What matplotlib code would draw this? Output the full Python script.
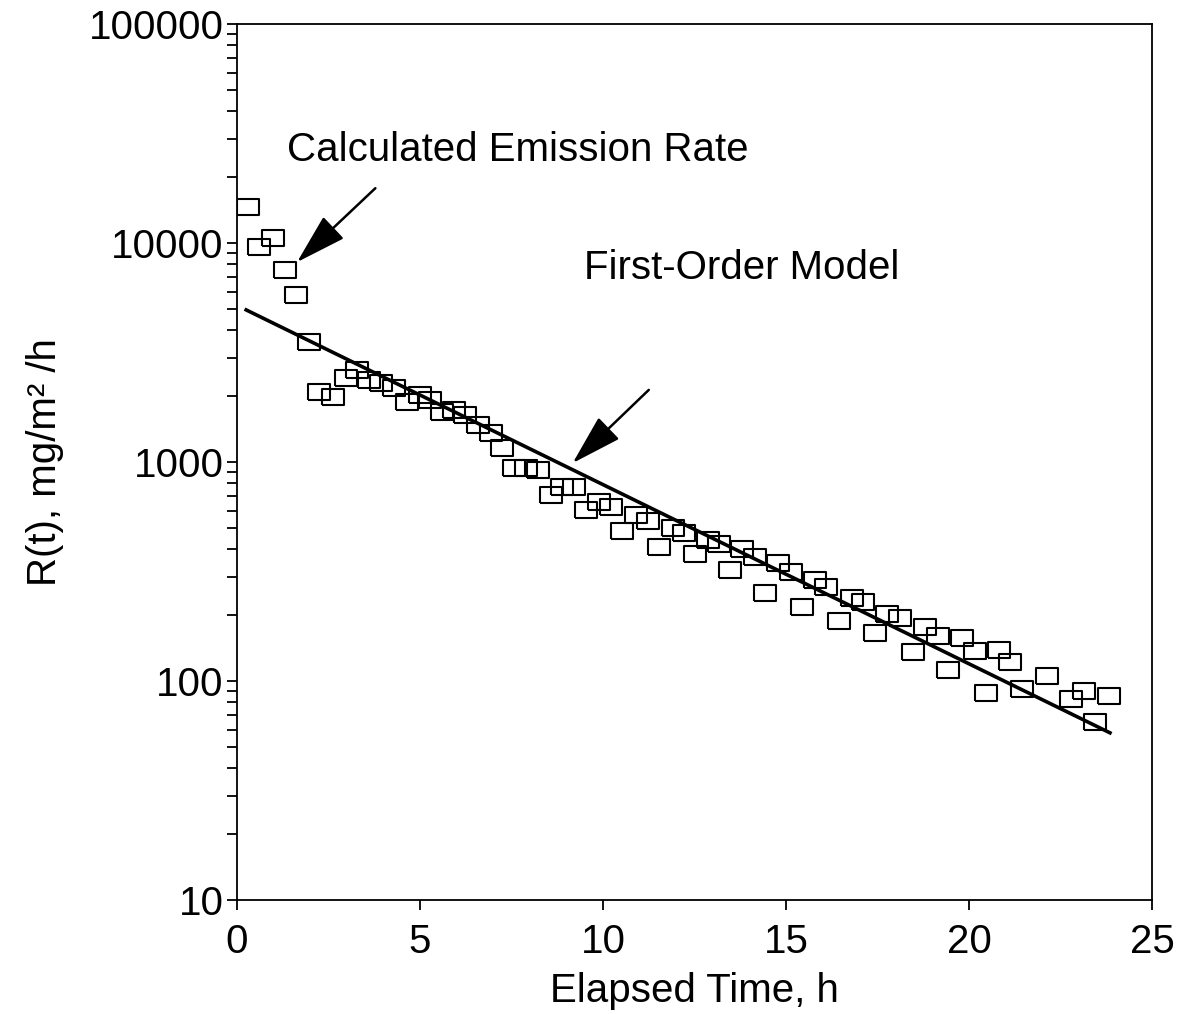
import matplotlib
matplotlib.use("Agg")
import matplotlib.pyplot as plt
from matplotlib.ticker import FixedLocator, FixedFormatter, LogLocator, NullFormatter

plt.rcParams['font.family'] = ['Liberation Sans', 'DejaVu Sans']

# Measured emission rate (h, mg/m2/h)
time_h = [0.31, 0.61, 0.97, 1.31, 1.62, 1.98, 2.25, 2.61, 2.98, 3.29,
          3.60, 3.92, 4.28, 4.65, 4.99, 5.27, 5.61, 5.92, 6.24, 6.59,
          6.93, 7.25, 7.57, 7.89, 8.23, 8.57, 8.89, 9.21, 9.53, 9.89,
          10.21, 10.53, 10.90, 11.22, 11.54, 11.90, 12.20, 12.52, 12.86, 13.18,
          13.48, 13.80, 14.14, 14.43, 14.79, 15.14, 15.44, 15.80, 16.10, 16.44,
          16.79, 17.11, 17.44, 17.77, 18.11, 18.46, 18.79, 19.14, 19.43, 19.80,
          20.15, 20.45, 20.82, 21.12, 21.46, 22.12, 22.79, 23.13, 23.45, 23.81]
rate = [14650, 9620, 10500, 7530, 5790, 3540, 2094, 1987, 2410, 2630,
        2368, 2288, 2170, 1885, 2023, 1920, 1698, 1727, 1640, 1476,
        1361, 1155, 936, 936, 919, 707, 771, 766, 604, 659,
        625, 484, 573, 538, 410, 498, 476, 379, 440, 422,
        321, 399, 370, 251, 345, 316, 217, 289, 270, 187,
        239, 230, 166, 202, 193, 136, 176, 160, 112, 158,
        137, 88, 139, 122, 92, 105, 83, 90, 65, 85]

# First-order model line endpoints
model_t = [0.25, 23.85]
model_R = [4950, 58]

x_ticks = [0, 5, 10, 15, 20, 25]
y_ticks = [10, 100, 1000, 10000, 100000]
y_tick_labels = ["10", "100", "1000", "10000", "100000"]

FS = 29

fig = plt.figure(figsize=(11.81, 10.14), dpi=100)
ax = fig.add_axes([0.2007, 0.1124, 0.7748, 0.8639])

ax.set_yscale('log')
ax.set_xlim(0, 25)
ax.set_ylim(10, 100000)

rect = [(-1.3, -1), (1.3, -1), (1.3, 1), (-1.3, 1), (-1.3, -1)]
ax.plot(time_h, rate, linestyle='none', marker=rect, markersize=15.5,
        markerfacecolor='none', markeredgecolor='black', markeredgewidth=1.5)
ax.plot(model_t, model_R, color='black', linewidth=2.6)

ax.xaxis.set_major_locator(FixedLocator(x_ticks))
ax.yaxis.set_major_locator(FixedLocator(y_ticks))
ax.yaxis.set_major_formatter(FixedFormatter(y_tick_labels))
ax.yaxis.set_minor_locator(LogLocator(base=10, subs=range(2, 10)))
ax.yaxis.set_minor_formatter(NullFormatter())

ax.tick_params(axis='both', which='major', direction='out', length=7.5, width=1.3,
               labelsize=FS, pad=2, colors='black')
ax.tick_params(axis='y', which='minor', direction='out', length=7.5, width=1.3)
ax.tick_params(axis='x', which='major', pad=9)
for s in ax.spines.values():
    s.set_linewidth(1.3)

ax.set_xlabel("Elapsed Time, h", fontsize=FS, labelpad=8)
ax.set_ylabel("R(t), mg/m² /h", fontsize=FS, labelpad=18)

arrow_style = dict(arrowstyle='-|>,head_length=1.6,head_width=0.47',
                   mutation_scale=20, color='black', lw=1.8,
                   shrinkA=0, shrinkB=0)
ax.annotate("", xy=(1.64, 8180), xytext=(3.78, 17800), arrowprops=arrow_style)
ax.text(1.37, 26600, "Calculated Emission Rate", fontsize=FS, va='center', ha='left')

ax.annotate("", xy=(9.17, 989), xytext=(11.25, 2135), arrowprops=arrow_style)
ax.text(9.47, 7690, "First-Order Model", fontsize=FS, va='center', ha='left')

fig.savefig("out.png", dpi=100)
